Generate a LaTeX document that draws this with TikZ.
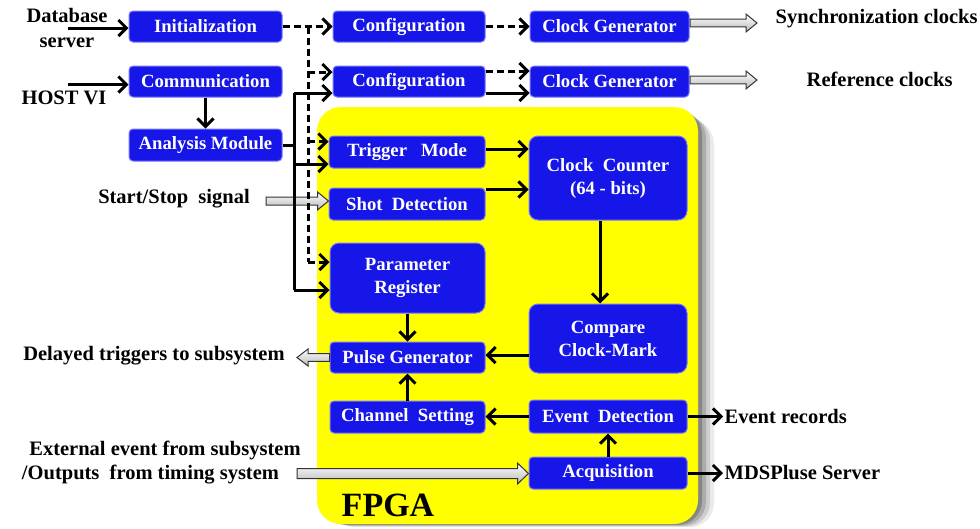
\documentclass[tikz,border=0pt]{standalone}
\usepackage{fontspec}
\setmainfont{Liberation Serif}
\usetikzlibrary{arrows.meta,calc}
\definecolor{boxblue}{RGB}{22,22,232}
\definecolor{boxedge}{RGB}{120,120,255}
\definecolor{fpgayellow}{RGB}{255,255,0}
\newcommand\blockarr[4]{%
  \coordinate (bahead) at ($(#2)!11pt!(#1)$);
  \path[blockarrow] ($(#1)!#3!90:(#2)$) -- ($(bahead)!#3!90:(#2)$) -- ($(bahead)!#4!90:(#2)$)
    -- (#2) -- ($(bahead)!#4!-90:(#2)$) -- ($(bahead)!#3!-90:(#2)$) -- ($(#1)!#3!-90:(#2)$) -- cycle;}
\begin{document}
\begin{tikzpicture}[x=1pt,y=-1pt,
  blk/.style={fill=boxblue, draw=boxedge, line width=1pt, rounded corners=4pt, text=white,
    font=\fontsize{18.7}{23}\selectfont\bfseries, align=center, inner sep=0pt},
  lbl/.style={font=\fontsize{20.5}{25}\selectfont\bfseries, inner sep=1.5pt, align=center},
  tip/.style={-{Straight Barb[length=8pt,width=16pt,line width=3pt]}},
  arr/.style={line width=3pt, tip},
  ln/.style={line width=3pt},
  dsh/.style={dash pattern=on 7pt off 4pt},
  blockarrow/.style={draw=gray!40!black, line width=1pt, top color=white, bottom color=gray!55, line join=miter}
]
\useasboundingbox (0,0) rectangle (980,528);
\fill[white] (0,0) rectangle (980,528);

% FPGA area with soft shadow
\foreach \d/\o in {16/0.08,12/0.12,8/0.16,4/0.22}{
  \fill[black, opacity=\o, rounded corners=24pt] (317+\d,107+\d*0.8) rectangle (698+\d,524+\d*0.2);
}
\fill[fpgayellow, rounded corners=24pt] (317,107) rectangle (698,524);
\node[font=\fontsize{34}{34}\selectfont\bfseries, inner sep=0pt] (fpga) at (388,505) {FPGA};

% boxes
\node[blk, minimum width=153pt, minimum height=31pt] (init) at (205.5,26.5) {Initialization};
\node[blk, minimum width=153pt, minimum height=31pt] (comm) at (205.5,81.5) {Communication};
\node[blk, minimum width=153pt, minimum height=32pt] (anal) at (205.5,145) {Analysis Module};
\node[blk, minimum width=152pt, minimum height=31pt] (conf1) at (409,26.5) {Configuration};
\node[blk, minimum width=152pt, minimum height=31pt] (conf2) at (409,81.5) {Configuration};
\node[blk, minimum width=159pt, minimum height=31pt] (cg1) at (609.5,26.5) {Clock Generator};
\node[blk, minimum width=159pt, minimum height=31pt] (cg2) at (609.5,81.5) {Clock Generator};
\node[blk, minimum width=156pt, minimum height=32pt] (trig) at (407,152) {Trigger\hspace{0.75em}Mode};
\node[blk, minimum width=156pt, minimum height=32pt] (shot) at (407,204) {Shot\hspace{0.5em}Detection};
\node[blk, minimum width=158pt, minimum height=84pt, rounded corners=9pt] (cnt) at (608,178) {Clock\hspace{0.5em}Counter\\(64 - bits)};
\node[blk, minimum width=155pt, minimum height=70pt, rounded corners=9pt] (param) at (407.5,278) {Parameter\\Register};
\node[blk, minimum width=158pt, minimum height=69pt, rounded corners=9pt] (cmp) at (608,338.5) {Compare\\Clock-Mark};
\node[blk, minimum width=155pt, minimum height=31pt] (pulse) at (407.5,357.5) {Pulse Generator};
\node[blk, minimum width=155pt, minimum height=32pt] (chan) at (407.5,417) {Channel\hspace{0.5em}Setting};
\node[blk, minimum width=158pt, minimum height=33pt] (evt) at (608,416.5) {Event\hspace{0.5em}Detection};
\node[blk, minimum width=158pt, minimum height=32pt] (acq) at (608,473) {Acquisition};

% labels
\node[lbl] (db) at (67,28) {Database\\server};
\node[lbl] (host) at (64,98) {HOST VI};
\node[lbl] (ss) at (174,199) {Start/Stop\hspace{0.5em}signal};
\node[lbl, anchor=west] (sync) at (774,19) {Synchronization clocks};
\node[lbl, anchor=west] (ref) at (805,79) {Reference clocks};
\node[lbl] (del) at (154,356) {Delayed triggers to subsystem};
\node[lbl] (ext1) at (165,450) {External event from subsystem};
\node[lbl] (ext2) at (150.5,475) {/Outputs\hspace{0.5em}from timing system};
\node[lbl, anchor=west] (rec) at (723,416.5) {Event records};
\node[lbl, anchor=west] (mds) at (723,473) {MDSPluse Server};

% coordinates
\coordinate (dbin) at (68,28);
\coordinate (hostin) at (68,84.5);
\coordinate (dtop) at (308,26.5);
\coordinate (d2) at (308,72);
\coordinate (d3) at (308,141.5);
\coordinate (dbot) at (308,262);
\coordinate (s0) at (294,145);
\coordinate (stop) at (294,93);
\coordinate (s2) at (294,164);
\coordinate (sbot) at (294,290);
\coordinate (c2d) at ([yshift=10.5pt]conf2.east);
\coordinate (c2s) at ([yshift=-11.5pt]conf2.east);
\coordinate (t1) at ([yshift=3pt]trig.east);
\coordinate (sh1) at ([yshift=-2pt]shot.north east);
\coordinate (cm1) at ([yshift=-16.5pt]cmp.west);
\coordinate (ssa) at (266,201);
\coordinate (ssb) at (ssa -| shot.west);
\coordinate (g1a) at (690,23);
\coordinate (g1b) at (757,23);
\coordinate (g2a) at (690,80);
\coordinate (g2b) at (757,80);
\coordinate (pwa) at (pulse.west);
\coordinate (pwb) at (297,357.5);
\coordinate (exa) at (297,473.5);
\coordinate (exb) at (exa -| acq.west);

% block arrows
\blockarr{ssa}{ssb}{4pt}{9pt}
\blockarr{g1a}{g1b}{3.8pt}{9pt}
\blockarr{g2a}{g2b}{3.8pt}{9pt}
\blockarr{pwa}{pwb}{3.8pt}{8.5pt}
\blockarr{exa}{exb}{5pt}{10.5pt}

% input arrows
\draw[arr] (dbin) -- (dbin -| init.west);
\draw[arr] (hostin) -- (hostin -| comm.west);
\draw[arr] (comm.south) -- (anal.north);

% dashed bus
\draw[ln, dsh, tip] (init.east) -- (conf1.west);
\draw[ln, dsh] (dtop) -- (dbot);
\draw[ln, dsh, tip] (d2) -- (d2 -| conf2.west);
\draw[ln, dsh, tip] (d3) -- (d3 -| trig.west);
\draw[ln, dsh, tip] (dbot) -- (dbot -| param.west);

% solid bus
\draw[ln] (anal.east) -- (s0);
\draw[ln] (stop) -- (sbot);
\draw[arr] (stop) -- (stop -| conf2.west);
\draw[arr] (s2) -- (s2 -| trig.west);
\draw[arr] (sbot) -- (sbot -| param.west);

% config -> clock gen
\draw[ln, dsh, tip] (conf1.east) -- (cg1.west);
\draw[ln, dsh, tip] (c2d) -- (c2d -| cg2.west);
\draw[arr] (c2s) -- (c2s -| cg2.west);

% FPGA internals
\draw[arr] (t1) -- (t1 -| cnt.west);
\draw[arr] (sh1) -- (sh1 -| cnt.west);
\draw[arr] ([xshift=-8pt]cnt.south) -- ([xshift=-8pt]cmp.north);
\draw[arr] (cm1) -- (cm1 -| pulse.east);
\draw[arr] (param.south) -- (pulse.north);
\draw[arr] (chan.north) -- (pulse.south);
\draw[arr] (evt.west) -- (evt.west -| chan.east);
\draw[arr] (acq.north) -- (evt.south);
\draw[arr] (evt.east) -- (rec.west);
\draw[arr] (acq.east) -- (mds.west);
\end{tikzpicture}
\end{document}
